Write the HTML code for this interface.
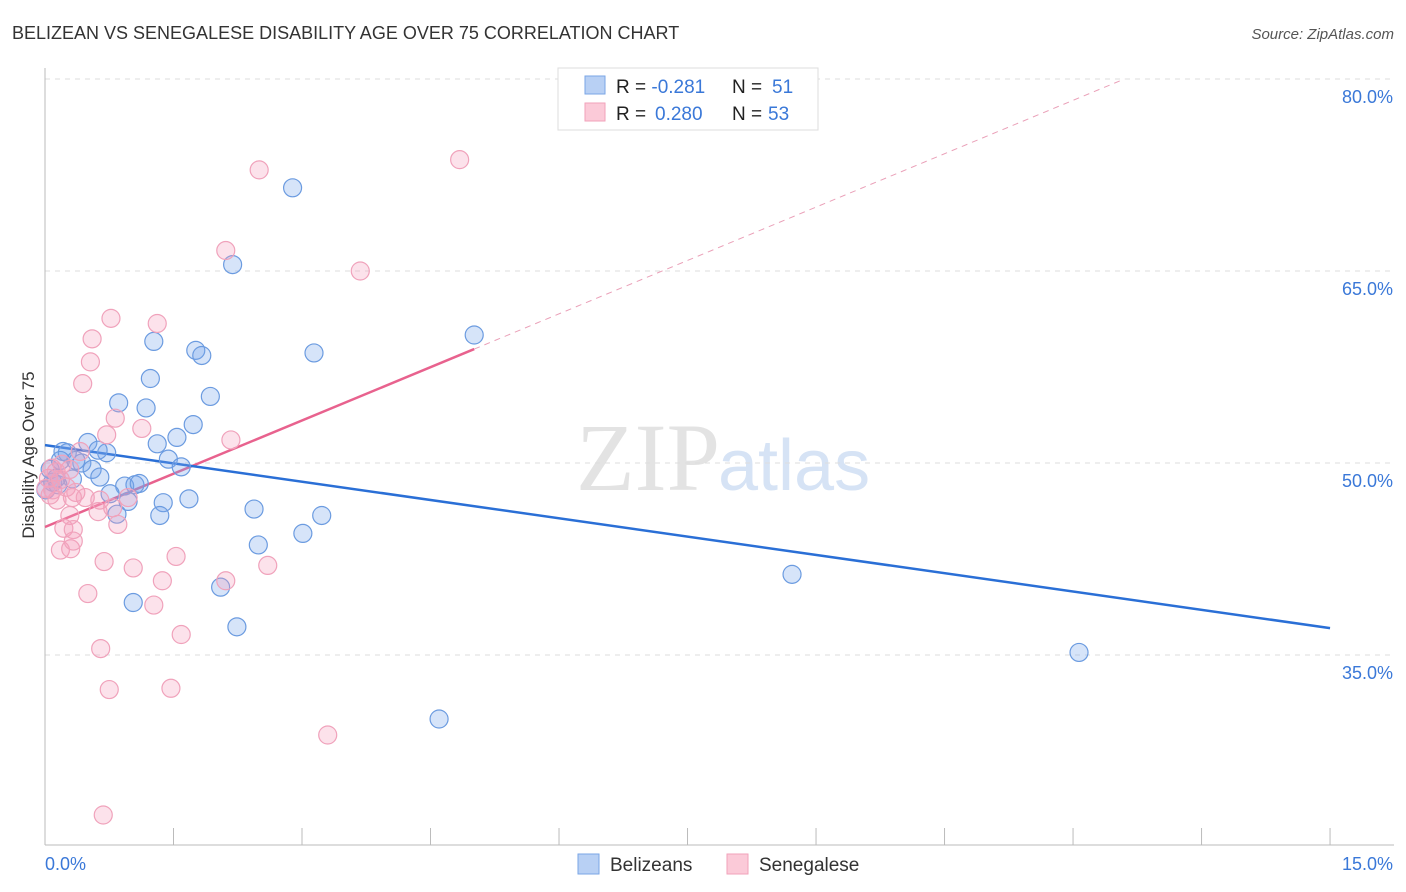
<!DOCTYPE html>
<html><head><meta charset="utf-8"><style>
body{margin:0;background:#fff;font-family:"Liberation Sans",sans-serif}
svg{display:block}
</style></head><body>
<svg id="chart" width="1406" height="892">
<text x="12" y="39" font-size="18" fill="#333">BELIZEAN VS SENEGALESE DISABILITY AGE OVER 75 CORRELATION CHART</text>
<text x="1394" y="39" font-size="15" fill="#555" font-style="italic" text-anchor="end">Source: ZipAtlas.com</text>
<text x="720" y="490" font-size="96" fill="#e3e3e3" text-anchor="end" font-family="Liberation Serif,serif">ZIP</text>
<text x="718" y="490" font-size="72" fill="#d6e3f5">atlas</text>
<g id="grid"></g><g id="axes"></g><g id="trend"></g><g id="pts"></g>
<text x="34" y="455" font-size="17" fill="#333" text-anchor="middle" transform="rotate(-90 34 455)">Disability Age Over 75</text>
<g>
<rect x="558" y="68" width="260" height="62" fill="#fff" stroke="#ddd"/>
<rect x="585" y="76" width="20" height="18" fill="#b8d0f4" stroke="#7aa6e6"/>
<rect x="585" y="103" width="20" height="18" fill="#fbcad8" stroke="#f2a2ba"/>
<text x="616" y="93" font-size="19" fill="#222">R = <tspan fill="#3a78d8">-0.281</tspan><tspan x="732">N = </tspan><tspan fill="#3a78d8" x="772">51</tspan></text>
<text x="616" y="120" font-size="19" fill="#222">R = <tspan fill="#3a78d8" x="655">0.280</tspan><tspan x="732">N = </tspan><tspan fill="#3a78d8" x="768">53</tspan></text>
</g>
<g>
<rect x="578" y="854" width="21" height="20" fill="#b8d0f4" stroke="#7aa6e6"/>
<text x="610" y="871" font-size="19" fill="#333">Belizeans</text>
<rect x="727" y="854" width="21" height="20" fill="#fbcad8" stroke="#f2a2ba"/>
<text x="759" y="871" font-size="19" fill="#333">Senegalese</text>
</g>
</svg>
<script>
const blueX=[2.89,2.19,5.01,3.14,1.76,1.83,1.27,1.23,1.93,0.86,1.18,1.73,1.54,1.31,0.50,0.21,0.26,0.72,0.62,1.44,0.43,0.55,1.59,0.64,0.32,0.09,0.15,1.05,0.93,1.10,0.76,1.38,1.68,0.97,0.84,1.34,2.44,3.23,3.01,2.49,2.05,1.03,2.24,4.60,8.72,12.07,0.06,0.18,0.36,0.13,0.01];
const blueY=[71.5,65.5,60.0,58.6,58.8,58.4,59.5,56.6,55.2,54.7,54.3,53.0,52.0,51.5,51.6,50.9,50.8,50.8,51.0,50.3,50.0,49.5,49.7,48.9,48.75,48.5,48.3,48.3,48.2,48.4,47.6,46.9,47.2,47.0,46.0,45.9,46.4,45.9,44.5,43.6,40.3,39.1,37.2,30.0,41.3,35.2,49.5,50.2,50.2,48.8,47.9];
const pinkX=[2.50,4.84,2.11,3.68,0.77,1.31,0.55,0.53,0.44,0.82,1.13,0.72,2.17,0.41,0.29,0.13,0.04,0.18,0.09,0.36,0.47,0.14,0.97,0.62,0.29,0.22,0.33,0.85,0.18,0.30,0.33,0.69,1.03,1.53,2.11,2.60,1.37,1.27,0.50,1.59,0.65,0.75,1.47,3.30,0.68,0.79,0.01,0.08,0.25,0.64,0.06,0.32,0.20];
const pinkY=[72.9,73.7,66.6,65.0,61.3,60.9,59.7,57.9,56.2,53.5,52.7,52.2,51.8,50.9,49.5,49.3,48.8,48.7,47.9,47.7,47.3,47.1,47.3,46.2,45.9,44.9,44.8,45.2,43.2,43.3,43.9,42.3,41.8,42.7,40.8,42.0,40.8,38.9,39.8,36.6,35.5,32.3,32.4,28.75,22.5,46.5,48.0,49.6,48.1,47.1,47.5,47.3,49.9];
const yTicks=[35,50,65,80];
const yTickLabels=["35.0%","50.0%","65.0%","80.0%"];
const xTicks=[0,1.5,3,4.5,6,7.5,9,10.5,12,13.5,15];
const blueTrend=[[0,51.4],[15,37.1]];
const pinkTrend=[[0,45.0],[5.01,58.9]];
const pinkTrendExt=[[5.01,58.9],[12.6,80]];
const X=v=>45+v*85.67, Y=v=>79+(80-v)*12.8;
const NS="http://www.w3.org/2000/svg";
function mk(t,a,p){const e=document.createElementNS(NS,t);for(const k in a)e.setAttribute(k,a[k]);p.appendChild(e);return e;}
const grid=document.getElementById('grid'),axes=document.getElementById('axes'),trend=document.getElementById('trend'),pts=document.getElementById('pts');
yTicks.forEach((v,i)=>{
 const l=mk('line',{x1:45,x2:1394,y1:Y(v),y2:Y(v),stroke:'#ddd','stroke-dasharray':'5,5'},grid);
 
 
 const t=mk('text',{x:1393,y:Y(v)+24,'font-size':18,fill:'#3a78d8','text-anchor':'end'},axes);
 t.textContent=yTickLabels[i];
 
 
});
let a=mk('line',{x1:45,x2:45,y1:68,y2:845,stroke:'#bbb'},axes);


a=mk('line',{x1:45,x2:1394,y1:845,y2:845,stroke:'#bbb'},axes);


xTicks.forEach(v=>{
 const l=mk('line',{x1:X(v),x2:X(v),y1:828,y2:845,stroke:'#bbb'},axes);
 
 
});
let t=mk('text',{x:45,y:870,'font-size':18,fill:'#3a78d8'},axes);t.textContent='0.0%';


t=mk('text',{x:1393,y:870,'font-size':18,fill:'#3a78d8','text-anchor':'end'},axes);t.textContent='15.0%';


function seg(p,attrs,name){const l=mk('line',Object.assign({x1:X(p[0][0]),y1:Y(p[0][1]),x2:X(p[1][0]),y2:Y(p[1][1])},attrs),trend);
 
 }
seg(pinkTrendExt,{stroke:'#eaa0b8','stroke-width':1,'stroke-dasharray':'6,5'},'senegalese-trend-extension');
seg(pinkTrend,{stroke:'#e8628e','stroke-width':2.5},'senegalese-trend-line');
seg(blueTrend,{stroke:'#2a6fd6','stroke-width':2.5},'belizean-trend-line');
blueX.forEach((v,i)=>{const c=mk('circle',{cx:X(v),cy:Y(blueY[i]),r:9,fill:'rgba(120,165,235,0.3)',stroke:'#6b9be0','stroke-width':1.2},pts);
 
 });
pinkX.forEach((v,i)=>{const c=mk('circle',{cx:X(v),cy:Y(pinkY[i]),r:9,fill:'rgba(245,160,190,0.3)',stroke:'#f0a2bb','stroke-width':1.2},pts);
 
 });
</script>
</body></html>
